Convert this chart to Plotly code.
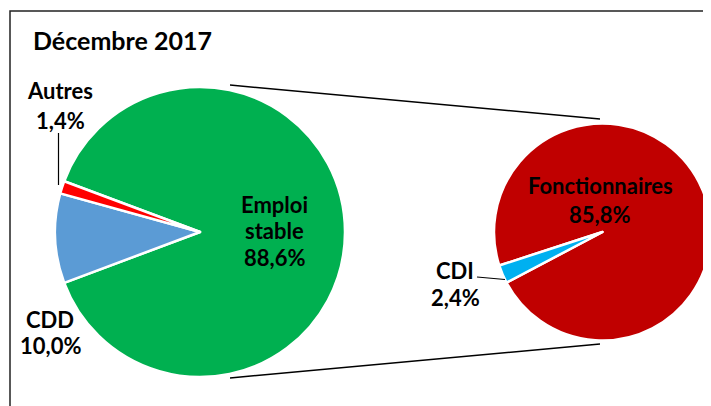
import plotly.graph_objects as go

# données (décembre 2017)
titre = "Décembre 2017"
labels_main = ["Emploi stable", "CDD", "Autres"]
values_main = [88.6, 10.0, 1.4]
colors_main = ["#00B050", "#5B9BD5", "#FF0000"]

labels_sub = ["Fonctionnaires", "CDI"]
values_sub = [85.8, 2.4]
colors_sub = ["#C00000", "#00B0F0"]

# the page body has an 8px margin, so the figure starts at (8, 8)
OFF = 8
W, H = 711 - OFF, 406 - OFF
FONT = "Lato"


def px(x):
    return (x - OFF) / W


def py(y):
    return 1 - (y - OFF) / H


def fmt(v):
    return f"{v:.1f}%".replace(".", ",")


# pies geometry (window pixels)
c1, r1 = (200, 232), 145
c2, r2 = (602.5, 232), 108.5

fig = go.Figure()
fig.add_trace(go.Pie(labels=labels_main, values=values_main, sort=False,
                     direction="clockwise", rotation=-69.5,
                     marker=dict(colors=colors_main, line=dict(color="white", width=2.5)),
                     textinfo="none", hoverinfo="label+percent",
                     domain=dict(x=[px(c1[0] - r1), px(c1[0] + r1)],
                                 y=[py(c1[1] + r1), py(c1[1] - r1)])))
fig.add_trace(go.Pie(labels=labels_sub, values=values_sub, sort=False,
                     direction="clockwise", rotation=-108,
                     marker=dict(colors=colors_sub, line=dict(color="white", width=2.5)),
                     textinfo="none", hoverinfo="label+value",
                     domain=dict(x=[px(c2[0] - r2), 1],
                                 y=[py(c2[1] + r2), py(c2[1] - r2)])))


def line(x0, y0, x1, y1, w=1.5):
    return dict(type="line", xref="paper", yref="paper",
                x0=px(x0), y0=py(y0), x1=px(x1), y1=py(y1),
                line=dict(color="black", width=w))


shapes = [
    line(230, 85, 600, 119),     # connectors
    line(230, 378, 600, 344),
    line(58.5, 133, 58.5, 185, 1.2),   # leader Autres
    line(477, 277, 505, 279.5, 1.2),   # leader CDI
    dict(type="rect", xref="paper", yref="paper",
         x0=px(10), y0=py(420), x1=px(725), y1=py(11),
         line=dict(color="#222222", width=1.5)),
]

size = 22
ann = [dict(x=px(31), y=py(40), text="<b>" + titre + "</b>", xanchor="left",
            font=dict(family=FONT, size=25, color="black"))]
# one annotation per text line: (text, x centre, y centre)
lines = [
    ("Emploi", 274, 204), ("stable", 274, 230), (fmt(values_main[0]), 274, 257),
    (labels_main[1], 50, 319.5), (fmt(values_main[1]), 50, 345.5),
    (labels_main[2], 60, 90.5), (fmt(values_main[2]), 60, 120.5),
    (labels_sub[0], 600, 185.5), (fmt(values_sub[0]), 599, 214.5),
    (labels_sub[1], 455, 270), (fmt(values_sub[1]), 455, 297),
]
for t, x, y in lines:
    ann.append(dict(x=px(x), y=py(y), text="<b>" + t + "</b>", xanchor="center",
                    font=dict(family=FONT, size=size, color="black")))
for a in ann:
    a.update(xref="paper", yref="paper", showarrow=False, yanchor="middle")

fig.update_layout(width=W, height=H, margin=dict(l=0, r=0, t=0, b=0),
                  paper_bgcolor="white", plot_bgcolor="white",
                  showlegend=False, shapes=shapes, annotations=ann)

fig.write_html("out.html")
